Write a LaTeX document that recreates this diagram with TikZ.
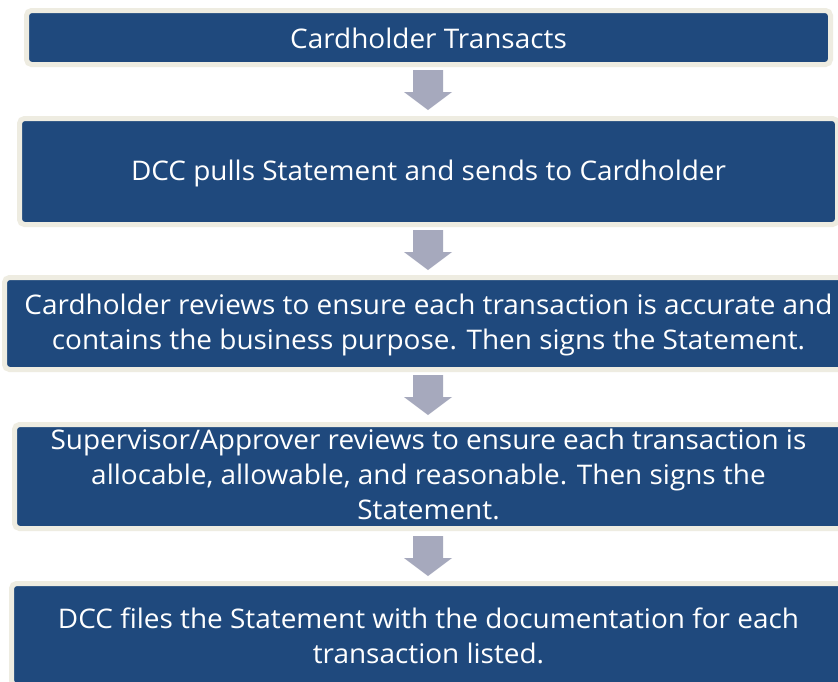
\documentclass[tikz,border=0pt]{standalone}
\usepackage{fontspec}
\setmainfont[FakeStretch=1.035]{Open Sans}
\definecolor{boxblue}{HTML}{1F497D}
\definecolor{boxrim}{HTML}{EEECE1}
\definecolor{arrowgray}{HTML}{A6A9BD}
\begin{document}
\begin{tikzpicture}[x=1pt,y=-1pt,
  stepbox/.style={draw=boxrim, fill=boxblue, line width=5pt, rounded corners=5pt,
    inner sep=0pt, outer sep=0pt, rectangle},
  txt/.style={text=white, font=\fontsize{27}{35}\selectfont, anchor=base, inner sep=0pt},
  darrow/.pic={\fill[arrowgray] (-15,0) -- (15,0) -- (15,22) -- (24,22) -- (0,40) -- (-24,22) -- (-15,22) -- cycle;}
]
\useasboundingbox (0,0) rectangle (838,681);
\clip (0,0) rectangle (838,681);
\fill[white] (0,0) rectangle (838,681);

\node[stepbox, minimum width=804pt, minimum height=54pt] (b1) at (428.5,37.5) {};
\node[stepbox, minimum width=818pt, minimum height=106pt] (b2) at (428.5,171.5) {};
\node[stepbox, minimum width=853pt, minimum height=92pt] (b3) at (431,323.5) {};
\node[stepbox, minimum width=833pt, minimum height=104pt] (b4) at (431,476.5) {};
\node[stepbox, minimum width=836pt, minimum height=102pt] (b5) at (429.5,634.5) {};

\pic at (428,70) {darrow};
\pic at (428,230) {darrow};
\pic at (428,375) {darrow};
\pic at (428,536) {darrow};

\node[txt] (t1) at (428.5,48) {Cardholder Transacts};
\node[txt] (t2) at (428.5,180) {DCC pulls Statement and sends to Cardholder};
\node[txt] (t3a) at (428.5,314) {Cardholder reviews to ensure each transaction is accurate and};
\node[txt] (t3b) at (428.5,349) {contains the business purpose. Then signs the Statement.};
\node[txt] (t4a) at (428.5,449) {Supervisor/Approver reviews to ensure each transaction is};
\node[txt] (t4b) at (428.5,484) {allocable, allowable, and reasonable. Then signs the};
\node[txt] (t4c) at (428.5,519) {Statement.};
\node[txt] (t5a) at (428.5,628) {DCC files the Statement with the documentation for each};
\node[txt] (t5b) at (428.5,663) {transaction listed.};
\end{tikzpicture}
\end{document}
